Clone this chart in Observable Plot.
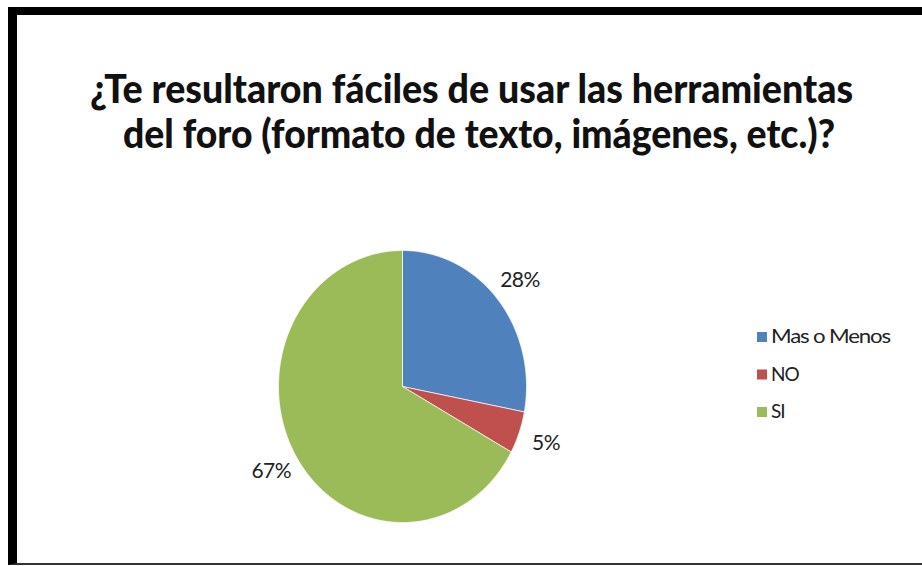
<!DOCTYPE html>
<html>
<head>
<meta charset="utf-8">
<script src="https://cdn.jsdelivr.net/npm/d3@7"></script>
<script src="https://cdn.jsdelivr.net/npm/@observablehq/plot@0.6"></script>
<style>
  html, body { margin: 0; padding: 0; background: #fff; width: 922px; height: 566px; overflow: hidden; }
  #frame { position: absolute; left: 8px; top: 7px; width: 914px; height: 558px; box-sizing: border-box;
           border-left: 9px solid #000; border-top: 8px solid #000; border-bottom: 2px solid #333; }
  #chart, #overlay { position: absolute; left: 0; top: 0; }
</style>
</head>
<body>
<div id="frame"></div>
<div id="chart"></div>
<svg id="overlay" width="922" height="566"></svg>
<script>
// ---- data ----
const categories = ["Mas o Menos", "NO", "SI"];
const values = [28, 5, 67];
const valueLabels = ["28%", "5%", "67%"];
const colors = ["#4F81BD", "#C0504D", "#9BBB59"];
const titleLines = [
  "¿Te resultaron fáciles de usar las herramientas",
  "del foro (formato de texto, imágenes, etc.)?"
];

// ---- geometry derived from data ----
const W = 922, H = 566, cx = 402, cy = 386, rx = 124, ry = 136;
const rows = categories.map((c, i) => ({category: c, value: values[i], label: valueLabels[i]}));
const arcs = d3.pie().sort(null).value(d => d.value)(rows);
const slicePts = [];
for (const a of arcs) {
  const c = a.data.category;
  slicePts.push({category: c, x: 0, y: 0});
  const n = Math.max(2, Math.ceil((a.endAngle - a.startAngle) / (Math.PI / 360)));
  for (let k = 0; k <= n; k++) {
    const t = a.startAngle + (a.endAngle - a.startAngle) * k / n;
    slicePts.push({category: c, x: Math.sin(t), y: Math.cos(t)});
  }
  slicePts.push({category: c, x: 0, y: 0});
}
const labelPts = arcs.map(a => {
  const m = (a.startAngle + a.endAngle) / 2;
  return {text: a.data.label, x: 1.23 * Math.sin(m), y: 1.23 * Math.cos(m)};
});

const chart = Plot.plot({
  width: W, height: H, margin: 0,
  style: {background: "transparent", fontFamily: "Lato, sans-serif"},
  x: {domain: [-cx / rx, (W - cx) / rx], axis: null},
  y: {domain: [-(H - cy) / ry, cy / ry], axis: null},
  color: {domain: categories, range: colors},
  marks: [
    Plot.line(slicePts, {x: "x", y: "y", z: "category", fill: "category",
      stroke: "#ffffff", strokeWidth: 1, strokeOpacity: 0.7, curve: "linear"}),
    Plot.text(labelPts, {x: "x", y: "y", text: "text", fontSize: 21, fill: "#222"})
  ]
});
document.getElementById("chart").appendChild(chart);
d3.select(chart).selectAll("text").style("letter-spacing", "-0.5px");

// ---- title and legend ----
const ov = d3.select("#overlay");
const titleSpec = [{x: 90, y: 103, w: 763}, {x: 123, y: 148, w: 712}];
titleLines.forEach((t, i) => {
  ov.append("text")
    .attr("x", titleSpec[i].x).attr("y", titleSpec[i].y)
    .attr("textLength", titleSpec[i].w).attr("lengthAdjust", "spacingAndGlyphs")
    .attr("font-family", "Lato, sans-serif").attr("font-weight", 900)
    .attr("font-size", 40).attr("fill", "#111")
    .text(t);
});
categories.forEach((c, i) => {
  const y0 = 332 + i * 37.5;
  ov.append("rect").attr("x", 757).attr("y", y0).attr("width", 10).attr("height", 10)
    .attr("fill", colors[i]);
  const t = ov.append("text").attr("x", 771).attr("y", y0 + 11)
    .attr("font-family", "Lato, sans-serif").attr("font-size", 19).attr("fill", "#222")
    .style("letter-spacing", "-1px")
    .text(c);
  if (i === 0) t.attr("textLength", 119).attr("lengthAdjust", "spacingAndGlyphs");
});
</script>
</body>
</html>
